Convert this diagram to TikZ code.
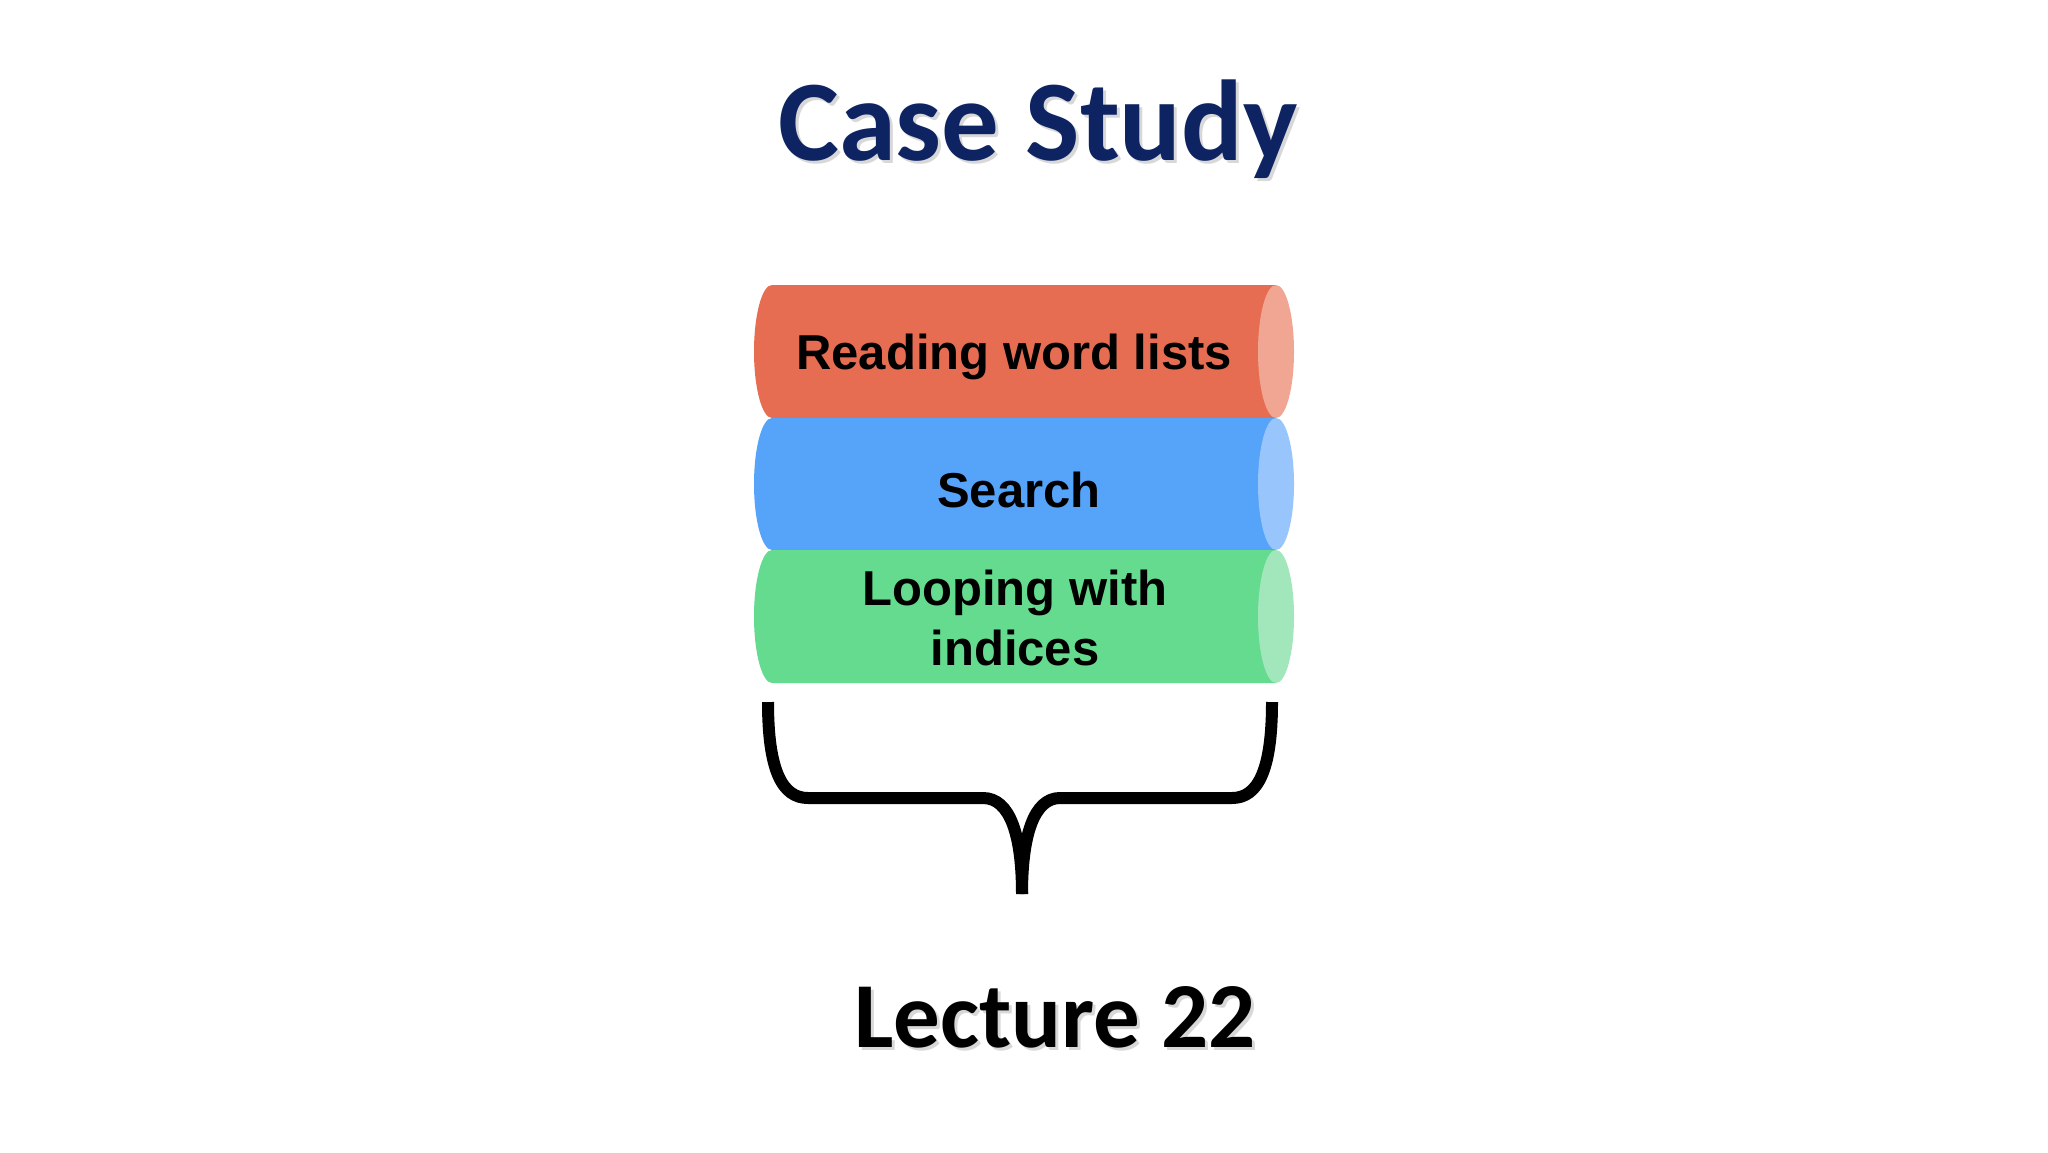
\documentclass[tikz,border=0pt]{standalone}
\usepackage{fontspec}
\newfontfamily\calb{Carlito}[BoldFont=* Bold]
\newfontfamily\arialf{Liberation Sans}[BoldFont=* Bold]
\definecolor{navy}{RGB}{14,36,98}
\definecolor{redbody}{RGB}{230,108,82}
\definecolor{redend}{RGB}{240,166,146}
\definecolor{bluebody}{RGB}{86,163,250}
\definecolor{blueend}{RGB}{152,197,251}
\definecolor{greenbody}{RGB}{100,219,143}
\definecolor{greenend}{RGB}{162,230,188}
\tikzset{
  cyltext/.style={font=\arialf\bfseries\fontsize{49}{60}\selectfont, text=black, anchor=base, inner sep=0pt},
  bigtitle/.style={font=\calb\bfseries\fontsize{115}{130}\selectfont, anchor=base, inner sep=0pt},
  lecttext/.style={font=\calb\bfseries\fontsize{93}{110}\selectfont, anchor=base, inner sep=0pt},
  shadowtext/.style={text=black!60, opacity=0.25},
  bracestroke/.style={line width=12pt, black, line cap=butt, line join=round}
}
\newcommand{\mycyl}[4]{%
  % #1 top y, #2 bottom y, #3 body colour, #4 end colour
  \fill[#3] (772,#1) -- (1276,#1) -- (1276,#2) -- (772,#2)
    arc[start angle=90, end angle=270, x radius=18, y radius={(#2-#1)/2}] -- cycle;
  \fill[#4] (1276,{(#1+#2)/2}) ellipse[x radius=18, y radius={(#2-#1)/2}];
}
\begin{document}
\begin{tikzpicture}[x=1pt,y=-1pt]
\useasboundingbox (0,0) rectangle (2048,1152);
\fill[white] (0,0) rectangle (2048,1152);

% title
\node[bigtitle, shadowtext] (titleshadow) at (1041,163) {Case Study};
\node[bigtitle, text=navy] (title) at (1038,160) {Case Study};

% cylinders
\mycyl{285}{418}{redbody}{redend}
\mycyl{418}{550}{bluebody}{blueend}
\mycyl{550}{683}{greenbody}{greenend}

\node[cyltext] (reading) at (1014,369) {Reading word lists};
\node[cyltext] (search) at (1019,507) {Search};
\node[cyltext] (looping) at (1015,605) {Looping with};
\node[cyltext] (indices) at (1015,665) {indices};

% brace
\coordinate (bl) at (768,702);
\coordinate (br) at (1272,702);
\coordinate (btip) at (1022,894);
\draw[bracestroke] (bl) .. controls (768,770) and (782,798) .. (808,798)
  -- (983,798) .. controls (1010,798) and (1022,835) .. (btip);
\draw[bracestroke] (br) .. controls (1272,770) and (1258,798) .. (1232,798)
  -- (1060,798) .. controls (1034,798) and (1022,835) .. (btip);

% lecture
\node[lecttext, shadowtext] (lectshadow) at (1058,1050) {Lecture 22};
\node[lecttext, text=black] (lecture) at (1055,1047) {Lecture 22};
\end{tikzpicture}
\end{document}
